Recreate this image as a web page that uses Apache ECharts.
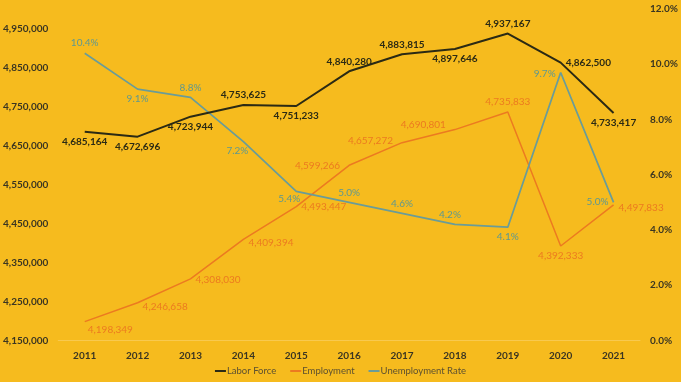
<!DOCTYPE html>
<html>
<head>
<meta charset="utf-8">
<script src="https://cdn.jsdelivr.net/npm/echarts@6/dist/echarts.min.js"></script>
<style>
html,body{margin:0;padding:0;background:#F6BB1E;}
#c{width:681px;height:382px;}
</style>
</head>
<body>
<div id="c"></div>
<script>
var years = ['2011','2012','2013','2014','2015','2016','2017','2018','2019','2020','2021'];
var laborForce = [4685164,4672696,4723944,4753625,4751233,4840280,4883815,4897646,4937167,4862500,4733417];
var employment = [4198349,4246658,4308030,4409394,4493447,4599266,4657272,4690801,4735833,4392333,4497833];
var unemploymentRate = [10.4,9.1,8.8,7.2,5.4,5.0,4.6,4.2,4.1,9.7,5.0];

// label placement (style, kept separate from data)
var lfPos = ['bottom','bottom','bottom','top','bottom','top','top','bottom','top','right','bottom'];
var emPos = ['right','right','right','right','right','left','left','left','top','bottom','right'];
var emOff = [[-2,8],[0,4],[0,1],[0,3],[0,0],[-4,0],[-4,-2],[-4,-5],[0,0],[0,0],[0,3]];
var urPos = ['top','bottom','top','bottom','bottom','top','top','top','bottom','left','left'];
var urOff = [[0,0],[0,0],[0,0],[-6,-1],[-7,-3],[0,0],[0,0],[-5,0],[0,0],[0,1],[0,-1]];

var FONT = 'Lato';
var fmtNum = function(v){ return Math.round(v).toLocaleString('en-US'); };

function items(vals, pos, off){
  return vals.map(function(v,i){
    var o = {value: v, label: {position: pos[i]}};
    if (off) o.label.offset = off[i];
    return o;
  });
}

var chart = echarts.init(document.getElementById('c'), null, {renderer:'canvas'});
chart.setOption({
  backgroundColor: '#F6BB1E',
  animation: false,
  grid: {left: 56, right: 41, top: 9, bottom: 41.5, containLabel: false},
  legend: {
    bottom: 1,
    left: 'center',
    icon: 'rect',
    itemWidth: 11,
    itemHeight: 2,
    itemGap: 14,
    textStyle: {color: '#5c5030', fontFamily: FONT, fontSize: 9.5, padding: [0,0,0,-4]},
    data: ['Labor Force','Employment','Unemployment Rate']
  },
  xAxis: {
    type: 'category',
    data: years,
    boundaryGap: true,
    axisLine: {show: true, lineStyle: {color: '#F8C94F', width: 1}},
    axisTick: {show: false},
    axisLabel: {color: '#3a3522', fontFamily: FONT, fontWeight: 'bold', fontSize: 10, margin: 10}
  },
  yAxis: [{
    type: 'value',
    min: 4150000,
    max: 5000000,
    interval: 100000,
    splitLine: {show: false},
    axisLine: {show: false},
    axisTick: {show: false},
    axisLabel: {
      color: '#3a3522', fontFamily: FONT, fontWeight: 'bold', fontSize: 10, margin: 10,
      formatter: function(v){ return v > 4950000 ? '' : fmtNum(v); }
    }
  },{
    type: 'value',
    min: 0,
    max: 12,
    interval: 2,
    splitLine: {show: false},
    axisLine: {show: false},
    axisTick: {show: false},
    axisLabel: {
      color: '#3a3522', fontFamily: FONT, fontWeight: 'bold', fontSize: 10, margin: 10,
      formatter: function(v){ return v.toFixed(1) + '%'; }
    }
  }],
  series: [{
    name: 'Labor Force',
    type: 'line',
    yAxisIndex: 0,
    data: items(laborForce, lfPos),
    showSymbol: true,
    symbol: 'circle',
    symbolSize: 0.01,
    lineStyle: {color: '#2b2a14', width: 2},
    itemStyle: {color: '#2b2a14'},
    label: {show: true, color: '#2b2a14', fontFamily: FONT, fontWeight: 'bold', fontSize: 10, distance: 5,
      formatter: function(p){ return fmtNum(p.value); }},
    z: 3
  },{
    name: 'Employment',
    type: 'line',
    yAxisIndex: 0,
    data: items(employment, emPos, emOff),
    showSymbol: true,
    symbol: 'circle',
    symbolSize: 0.01,
    lineStyle: {color: '#EC7A20', width: 1.5},
    itemStyle: {color: '#EC7A20'},
    label: {show: true, color: '#EC7A20', fontFamily: FONT, fontSize: 10, distance: 5,
      formatter: function(p){ return fmtNum(p.value); }},
    z: 2
  },{
    name: 'Unemployment Rate',
    type: 'line',
    yAxisIndex: 1,
    data: items(unemploymentRate, urPos, urOff),
    showSymbol: true,
    symbol: 'circle',
    symbolSize: 0.01,
    lineStyle: {color: '#6A9C98', width: 1.75},
    itemStyle: {color: '#6A9C98'},
    label: {show: true, color: '#5E9890', fontFamily: FONT, fontSize: 10, distance: 5,
      formatter: function(p){ return p.value.toFixed(1) + '%'; }},
    z: 2
  }]
});
</script>
</body>
</html>
